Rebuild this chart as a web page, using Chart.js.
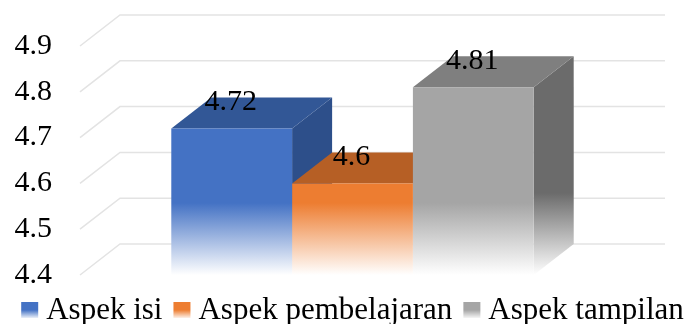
<!DOCTYPE html>
<html>
<head>
<meta charset="utf-8">
<script src="https://cdn.jsdelivr.net/npm/chart.js@4.4.0/dist/chart.umd.min.js"></script>
<style>
  body { margin: 0; background: #fff; }
  #wrap { width: 689px; height: 324px; }
</style>
</head>
<body>
<div id="wrap"><canvas id="chart" width="689" height="324"></canvas></div>
<script>
const categories = ['Aspek isi', 'Aspek pembelajaran', 'Aspek tampilan'];
const values = [4.72, 4.6, 4.81];
const tickLabels = ['4.4', '4.5', '4.6', '4.7', '4.8', '4.9'];

const frontColors = ['#4472C4', '#ED7D31', '#A5A5A5'];
const topColors = ['#325796', '#B65F25', '#7F7F7F'];
const sideColors = ['#2D4F8A', '#A8561F', '#6B6B6B'];

const FONT = "'Liberation Serif', 'Times New Roman', serif";
const DX = 40, DY = 31;   // depth of the boxes
const FADE = 72;          // height of the fade to white at the bottom

function fade(ctx, color, yTop, yBottom) {
    const g = ctx.createLinearGradient(0, yTop, 0, yBottom);
    g.addColorStop(0, color);
    g.addColorStop(1, '#ffffff');
    return g;
}

const box3d = {
    id: 'box3d',
    beforeDatasetsDraw(chart) {
        const { ctx, chartArea } = chart;
        const yScale = chart.scales.y;
        ctx.save();

        // left floor lines + back wall
        ctx.strokeStyle = '#e3e3e3';
        ctx.lineWidth = 1.5;
        tickLabels.forEach(t => {
            const py = yScale.getPixelForValue(parseFloat(t));
            ctx.beginPath();
            ctx.moveTo(chartArea.left, py);
            ctx.lineTo(chartArea.left + DX, py - DY);
            ctx.lineTo(chartArea.right + DX, py - DY);
            ctx.stroke();
        });

        // side and top faces, left to right
        chart.data.datasets.forEach((ds, i) => {
            const bar = chart.getDatasetMeta(i).data[0];
            const { x, y, width } = bar.getProps(['x', 'y', 'width'], true);
            const base = Math.min(bar.base, chartArea.bottom);
            const l = x - width / 2, r = x + width / 2;

            ctx.fillStyle = fade(ctx, sideColors[i], base - FADE - 10, base);
            ctx.beginPath();
            ctx.moveTo(r, y);
            ctx.lineTo(r + DX, y - DY);
            ctx.lineTo(r + DX, base - DY);
            ctx.lineTo(r, base);
            ctx.closePath();
            ctx.fill();

            ctx.fillStyle = topColors[i];
            ctx.beginPath();
            ctx.moveTo(l, y);
            ctx.lineTo(l + DX, y - DY);
            ctx.lineTo(r + DX, y - DY);
            ctx.lineTo(r, y);
            ctx.closePath();
            ctx.fill();
        });
        ctx.restore();
    },
    afterDatasetsDraw(chart) {
        const { ctx } = chart;
        ctx.save();
        ctx.font = `30px ${FONT}`;
        ctx.fillStyle = '#000';
        ctx.textAlign = 'center';
        ctx.textBaseline = 'alphabetic';
        chart.data.datasets.forEach((ds, i) => {
            const bar = chart.getDatasetMeta(i).data[0];
            ctx.fillText(String(ds.data[0]), bar.x - 1, bar.y - 18);
        });
        ctx.restore();
    },
    afterDraw(chart) {
        // legend
        const { ctx, chartArea } = chart;
        ctx.save();
        ctx.font = `31px ${FONT}`;
        ctx.textAlign = 'left';
        ctx.textBaseline = 'alphabetic';
        const widths = categories.map(c => ctx.measureText(c).width);
        const total = widths.reduce((a, w) => a + 25 + w, 0) + 11 * (categories.length - 1);
        let lx = (chartArea.left + chartArea.right) / 2 - total / 2;
        categories.forEach((c, i) => {
            ctx.fillStyle = fade(ctx, frontColors[i], 310, 319);
            ctx.fillRect(lx, 302, 17, 16);
            ctx.fillStyle = '#000';
            ctx.fillText(c, lx + 25, 319);
            lx += 25 + widths[i] + 11;
        });
        ctx.restore();
    }
};

const datasets = categories.map((c, i) => ({
    label: c,
    data: [values[i]],
    backgroundColor: (context) => {
        const { ctx, chartArea } = context.chart;
        if (!chartArea) return frontColors[i];
        return fade(ctx, frontColors[i], chartArea.bottom - FADE, chartArea.bottom);
    },
    borderWidth: 0,
    barPercentage: 1,
    categoryPercentage: 0.665
}));

new Chart(document.getElementById('chart'), {
    type: 'bar',
    data: { labels: [''], datasets: datasets },
    options: {
        responsive: false,
        animation: false,
        layout: { padding: { left: 12, right: 64, top: 43, bottom: 49 } },
        plugins: {
            legend: { display: false },
            tooltip: { enabled: false }
        },
        scales: {
            x: { display: false },
            y: {
                min: 4.4,
                max: 4.9,
                afterBuildTicks: (scale) => {
                    scale.ticks = tickLabels.map(t => ({ value: parseFloat(t) }));
                },
                afterFit: (scale) => { scale.width = 68; },
                ticks: {
                    padding: 28,
                    color: '#000',
                    font: { family: FONT, size: 30 },
                    callback: (v) => Number(v).toFixed(1)
                },
                grid: { display: false, drawTicks: false },
                border: { display: false }
            }
        }
    },
    plugins: [box3d]
});
</script>
</body>
</html>
